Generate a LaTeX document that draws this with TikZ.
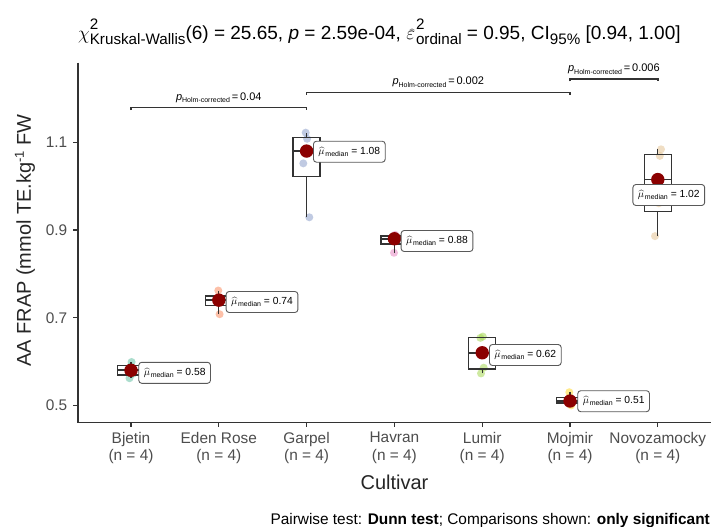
\documentclass[tikz,border=0pt]{standalone}
\usepackage{fix-cm}
\usepackage{fontspec}
\setmainfont{Liberation Sans}
\definecolor{cA}{HTML}{66C2A5}
\definecolor{cB}{HTML}{FC8D62}
\definecolor{cC}{HTML}{8DA0CB}
\definecolor{cD}{HTML}{E78AC3}
\definecolor{cE}{HTML}{A6D854}
\definecolor{cF}{HTML}{FFD92F}
\definecolor{cG}{HTML}{E5C494}
\definecolor{axgray}{HTML}{333333}
\definecolor{tkgray}{HTML}{4D4D4D}
\definecolor{medred}{HTML}{8B0000}
\newcommand\supsubs[2]{\makebox[0pt][l]{\raisebox{10pt}{\fontsize{15.2}{15}\selectfont #1}}\raisebox{-4.5pt}{\fontsize{15.2}{15}\selectfont #2}}
\newcommand\subsc[1]{\raisebox{-4.5pt}{\fontsize{15.2}{15}\selectfont #1}}
\newcommand\medtxt[1]{$\widehat{\mu}$\kern0.8pt\raisebox{-2.2pt}{\fontsize{7}{8}\selectfont median} = #1}
\newcommand\holm[1]{\textit{p}\raisebox{-2.5pt}{\fontsize{7}{8}\selectfont Holm-corrected}\,=\,#1}
\begin{document}
\begin{tikzpicture}[x=1pt,y=-1pt,
  declare function={Y(\v)=405.4-(\v-0.5)*438.5;},
  axis/.style={draw=axgray,line width=1.3pt},
  boxst/.style={draw=axgray,line width=1.3pt},
  ptst/.style={opacity=0.55},
  meddot/.style={circle,fill=medred,minimum size=13.4pt,inner sep=0pt},
  medlab/.style={draw=black!65,fill=white,rounded corners=3pt,line width=0.9pt,inner xsep=5pt,inner ysep=0pt,minimum height=21pt,font=\fontsize{10.3}{12}\selectfont},
  brk/.style={draw=axgray,line width=1.5pt},
  brklab/.style={anchor=base,inner sep=0pt,font=\fontsize{11}{12}\selectfont},
  ticklab/.style={text=tkgray,inner sep=0pt,font=\fontsize{15.4}{17.5}\selectfont},
  catlab/.style={text=tkgray,inner sep=0pt,align=center,anchor=north,font=\fontsize{15.4}{17.5}\selectfont}]
\useasboundingbox (0,0) rectangle (713,527);
\fill[white] (0,0) rectangle (713,527);

% axes
\coordinate (ytop) at (78,62.7);
\coordinate (orig) at (78,422.3);
\coordinate (xend) at (711,422.3);
\draw[axis] (ytop) -- (orig) -- (xend);
\foreach \v in {0.5,0.7,0.9,1.1}{
  \draw[axis] (73,{Y(\v)}) -- (78,{Y(\v)});
  \node[ticklab,anchor=east] at (67.5,{Y(\v)}) {\v};
}
\foreach \x/\n [count=\i] in {131/Bjetin,218.8/Eden Rose,306.6/Garpel,394.4/Havran,482.2/Lumir,570/Mojmir,657.8/Novozamocky}{
  \draw[axis] (\x,422.3) -- (\x,427.3);
  \node[catlab] (cat\i) at (\x,432) {\n\\(n = 4)};
}
\node[anchor=base,inner sep=0pt,font=\fontsize{20}{22}\selectfont,text=black!85] (xlab) at (394.5,489) {Cultivar};
\node[rotate=90,inner sep=0pt,font=\fontsize{20}{22}\selectfont,text=black!85] (ylab) at (25,240.5) {AA FRAP (mmol TE.kg\raisebox{7pt}{\fontsize{13}{13}\selectfont -1} FW};

% title
\node[anchor=base west,inner sep=0pt,font=\fontsize{19}{22}\selectfont] (title) at (78,40)
 {$\chi$\supsubs{2}{Kruskal-Wallis}(6) = 25.65, \textit{p} = 2.59e-04, $\widehat{\varepsilon}$\kern1pt\supsubs{2}{ordinal} = 0.95, CI\subsc{95\%} [0.94, 1.00]};

% caption
\node[anchor=base east,inner sep=0pt,font=\fontsize{15.4}{17}\selectfont] (cap) at (710,524)
 {Pairwise test: \textbf{Dunn test}; Comparisons shown: \textbf{only significant}};

% points
\foreach \v/\d in {0.562/-1.5,0.572/1.8,0.588/-0.6,0.599/0.6} \fill[ptst,cA] ({131+(\d)},{Y(\v)}) circle (4);
\foreach \v/\d in {0.708/0.8,0.735/-1.4,0.745/1.2,0.762/-0.5} \fill[ptst,cB] ({218.8+(\d)},{Y(\v)}) circle (4);
\foreach \v/\d in {0.929/2.7,1.052/-3.3,1.108/0.5,1.122/-0.9} \fill[ptst,cC] ({306.6+(\d)},{Y(\v)}) circle (4);
\foreach \v/\d in {0.848/-0.4,0.875/1.5,0.885/-1.2,0.889/0.8} \fill[ptst,cD] ({394.4+(\d)},{Y(\v)}) circle (4);
\foreach \v/\d in {0.573/-1.2,0.586/1.5,0.654/-1.8,0.657/0.6} \fill[ptst,cE] ({482.2+(\d)},{Y(\v)}) circle (4);
\foreach \v/\d in {0.500/1.2,0.507/-1.0,0.513/0.8,0.530/-0.7} \fill[ptst,cF] ({570+(\d)},{Y(\v)}) circle (4);
\foreach \v/\d in {0.886/-2.8,0.961/1.0,1.069/2.0,1.084/3.2} \fill[ptst,cG] ({657.8+(\d)},{Y(\v)}) circle (4);

% boxplots: X/Q1/med/Q3/lo/hi
\foreach \X/\qa/\md/\qc/\lo/\hi in {131/0.5695/0.58/0.5908/0.562/0.599,
  218.8/0.7283/0.74/0.7493/0.708/0.762,
  306.6/1.0213/1.08/1.1115/0.929/1.122,
  394.4/0.8683/0.88/0.886/0.848/0.889,
  482.2/0.5828/0.62/0.6548/0.573/0.657,
  570/0.50525/0.51/0.51725/0.500/0.530,
  657.8/0.9423/1.015/1.0728/0.886/1.084}{
  \draw[boxst] (\X,{Y(\lo)}) -- (\X,{Y(\qa)});
  \draw[boxst] (\X,{Y(\qc)}) -- (\X,{Y(\hi)});
  \draw[boxst] ({\X-13.5},{Y(\qa)}) rectangle ({\X+13.5},{Y(\qc)});
  \draw[boxst,line width=1.8pt] ({\X-13.5},{Y(\md)}) -- ({\X+13.5},{Y(\md)});
}

% median dots
\node[meddot] (m1) at (131,{Y(0.58)}) {};
\node[meddot] (m2) at (218.8,{Y(0.74)}) {};
\node[meddot] (m3) at (306.6,{Y(1.08)}) {};
\node[meddot] (m4) at (394.4,{Y(0.88)}) {};
\node[meddot] (m5) at (482.2,{Y(0.62)}) {};
\node[meddot] (m6) at (570,{Y(0.51)}) {};
\node[meddot] (m7) at (657.8,{Y(1.015)}) {};

% median labels
\node[medlab,anchor=west] (l1) at (138.3,372.8) {\medtxt{0.58}};
\node[medlab,anchor=west] (l2) at (225.7,302) {\medtxt{0.74}};
\node[medlab,anchor=west] (l3) at (313,151.7) {\medtxt{1.08}};
\node[medlab,anchor=west] (l4) at (400.7,241) {\medtxt{0.88}};
\node[medlab,anchor=west] (l5) at (489,355) {\medtxt{0.62}};
\node[medlab,anchor=west] (l6) at (577.3,401.2) {\medtxt{0.51}};
\node[medlab] (l7) at (668.8,195) {\medtxt{1.02}};

% significance brackets
\coordinate (b1l) at (131,107.7); \coordinate (b1r) at (306.6,107.7);
\coordinate (b2l) at (306.6,92.3); \coordinate (b2r) at (570,92.3);
\coordinate (b3l) at (570,79);   \coordinate (b3r) at (657.8,79);
\draw[brk] ([yshift=-2.5pt]b1l) -- (b1l) -- (b1r) -- ([yshift=-2.5pt]b1r);
\draw[brk] ([yshift=-2.5pt]b2l) -- (b2l) -- (b2r) -- ([yshift=-2.5pt]b2r);
\draw[brk] ([yshift=-2.5pt]b3l) -- (b3l) -- (b3r) -- ([yshift=-2.5pt]b3r);
\node[brklab] (s1) at (218.8,100.2) {\holm{0.04}};
\node[brklab] (s2) at (438.3,84.8) {\holm{0.002}};
\node[brklab] (s3) at (613.9,71.5) {\holm{0.006}};
\end{tikzpicture}
\end{document}
